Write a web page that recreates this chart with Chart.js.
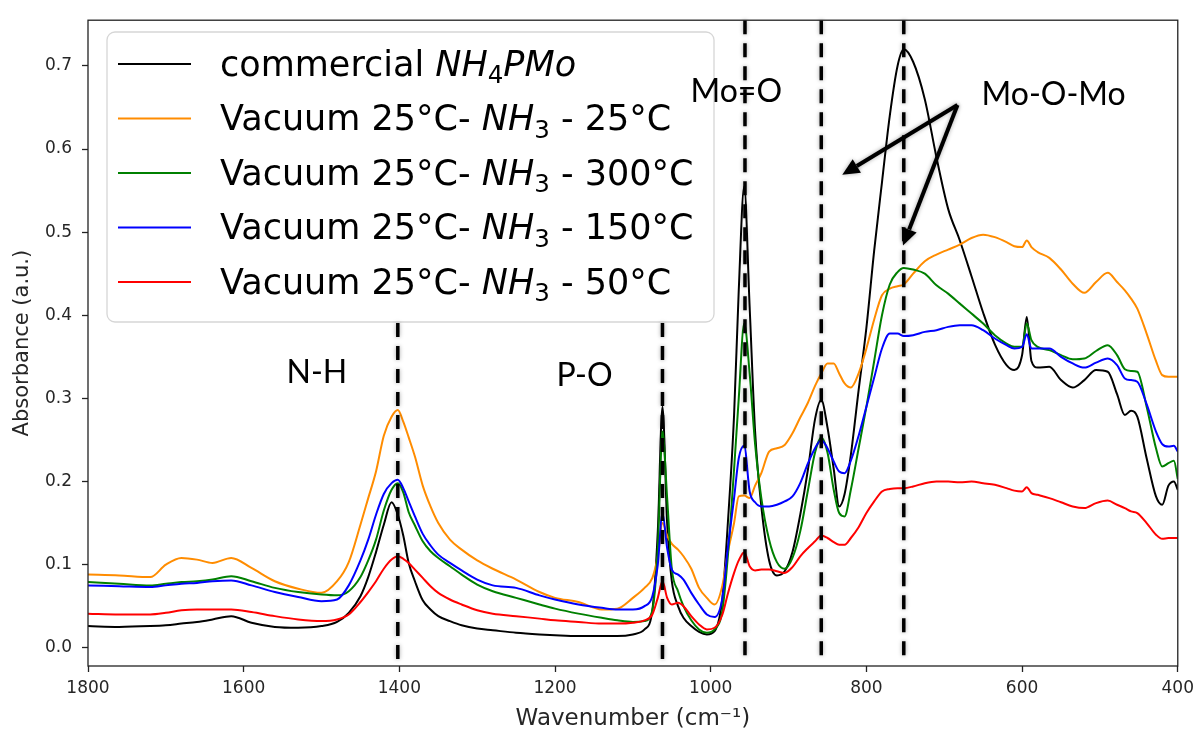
<!DOCTYPE html>
<html>
<head>
<meta charset="utf-8">
<script src="https://cdn.jsdelivr.net/npm/chart.js@4.4.1/dist/chart.umd.min.js"></script>
<style>
  html, body { margin: 0; padding: 0; background: #fff; }
  #wrap { width: 1200px; height: 734px; }
</style>
</head>
<body>
<div id="wrap"><canvas id="irChart" width="1200" height="734"></canvas></div>
<script>
// wavenumber grid (cm-1)
const wavenumbers = [1800,1760,1720,1700,1680,1660,1640,1616,1590,1560,
  1530,1500,1480,1465,1450,1440,1430,1420,1410,1402,
  1395,1388,1380,1370,1360,1350,1335,1320,1300,1280,
  1250,1220,1200,1170,1140,1120,1100,1085,1075,1068,
  1062,1056,1050,1042,1035,1025,1015,1005,995,985,
  978,970,964,957,950,943,935,925,915,905,
  895,885,875,866,858,850,842,835,828,820,
  810,800,790,780,770,760,752,740,725,710,
  695,680,665,650,635,620,610,600,594,588,
  580,565,550,535,520,505,490,478,468,460,
  452,440,428,420,412,405,400];

const commercial = [0.026,0.025,0.026,0.027,0.029,0.031,0.034,0.038,0.030,0.025,
  0.024,0.026,0.031,0.042,0.062,0.085,0.115,0.148,0.175,0.160,
  0.135,0.102,0.080,0.057,0.046,0.038,0.032,0.027,0.023,0.021,
  0.018,0.016,0.015,0.014,0.014,0.014,0.016,0.022,0.045,0.140,
  0.290,0.150,0.080,0.050,0.036,0.026,0.019,0.016,0.020,0.060,
  0.150,0.280,0.430,0.555,0.410,0.260,0.170,0.105,0.087,0.092,
  0.115,0.160,0.215,0.275,0.298,0.265,0.215,0.170,0.185,0.232,
  0.310,0.385,0.478,0.560,0.640,0.700,0.720,0.705,0.660,0.590,
  0.528,0.490,0.447,0.403,0.365,0.340,0.334,0.352,0.398,0.345,
  0.337,0.338,0.322,0.313,0.322,0.334,0.332,0.305,0.280,0.285,
  0.278,0.228,0.182,0.172,0.195,0.200,0.190];

const vac25 = [0.088,0.087,0.085,0.100,0.108,0.106,0.102,0.108,0.096,0.080,
  0.071,0.066,0.080,0.103,0.148,0.180,0.212,0.255,0.278,0.286,
  0.272,0.253,0.230,0.195,0.170,0.150,0.130,0.118,0.105,0.095,
  0.082,0.067,0.060,0.055,0.046,0.047,0.060,0.072,0.084,0.110,
  0.150,0.135,0.125,0.118,0.110,0.095,0.072,0.060,0.052,0.075,
  0.115,0.150,0.182,0.183,0.180,0.195,0.210,0.236,0.240,0.244,
  0.258,0.277,0.295,0.315,0.330,0.342,0.342,0.330,0.318,0.313,
  0.330,0.360,0.395,0.424,0.432,0.435,0.437,0.450,0.465,0.473,
  0.479,0.485,0.493,0.497,0.494,0.488,0.483,0.482,0.490,0.482,
  0.476,0.469,0.455,0.438,0.427,0.440,0.451,0.440,0.430,0.420,
  0.408,0.378,0.345,0.328,0.326,0.326,0.326];

const vac300 = [0.079,0.077,0.075,0.077,0.079,0.080,0.082,0.086,0.080,0.072,
  0.067,0.064,0.063,0.068,0.085,0.105,0.130,0.165,0.190,0.198,
  0.187,0.163,0.147,0.128,0.116,0.108,0.098,0.088,0.076,0.068,
  0.060,0.052,0.047,0.041,0.036,0.033,0.031,0.032,0.045,0.120,
  0.260,0.180,0.095,0.068,0.050,0.033,0.022,0.018,0.022,0.045,
  0.110,0.215,0.300,0.390,0.330,0.245,0.180,0.130,0.103,0.095,
  0.108,0.140,0.190,0.235,0.253,0.235,0.190,0.162,0.158,0.190,
  0.240,0.290,0.345,0.400,0.437,0.452,0.457,0.455,0.450,0.436,
  0.426,0.414,0.402,0.390,0.376,0.366,0.362,0.362,0.390,0.370,
  0.362,0.358,0.352,0.347,0.348,0.357,0.364,0.352,0.335,0.333,
  0.332,0.290,0.240,0.218,0.222,0.225,0.203];

const vac150 = [0.075,0.074,0.073,0.075,0.077,0.078,0.080,0.081,0.075,0.067,
  0.061,0.056,0.058,0.075,0.105,0.130,0.160,0.185,0.198,0.202,
  0.192,0.176,0.158,0.137,0.123,0.112,0.102,0.093,0.082,0.075,
  0.072,0.063,0.058,0.052,0.048,0.046,0.046,0.050,0.062,0.100,
  0.162,0.120,0.094,0.088,0.082,0.066,0.052,0.040,0.037,0.060,
  0.120,0.180,0.228,0.243,0.188,0.175,0.170,0.170,0.172,0.176,
  0.182,0.198,0.222,0.240,0.250,0.240,0.224,0.212,0.210,0.225,
  0.255,0.290,0.325,0.360,0.378,0.378,0.375,0.376,0.380,0.382,
  0.386,0.388,0.388,0.382,0.372,0.364,0.360,0.362,0.377,0.360,
  0.360,0.360,0.350,0.342,0.337,0.343,0.348,0.340,0.324,0.322,
  0.320,0.293,0.260,0.245,0.242,0.243,0.236];

const vac50 = [0.041,0.040,0.040,0.042,0.045,0.046,0.046,0.046,0.043,0.038,
  0.034,0.032,0.034,0.040,0.055,0.067,0.080,0.095,0.106,0.110,
  0.107,0.102,0.094,0.084,0.074,0.066,0.058,0.052,0.045,0.041,
  0.038,0.035,0.033,0.031,0.029,0.029,0.030,0.033,0.040,0.060,
  0.080,0.060,0.052,0.054,0.050,0.038,0.028,0.022,0.024,0.040,
  0.065,0.090,0.105,0.115,0.098,0.093,0.094,0.094,0.092,0.090,
  0.097,0.110,0.120,0.128,0.135,0.132,0.127,0.124,0.124,0.132,
  0.145,0.162,0.176,0.188,0.191,0.192,0.192,0.194,0.198,0.200,
  0.200,0.199,0.200,0.198,0.196,0.192,0.189,0.188,0.193,0.186,
  0.184,0.180,0.175,0.170,0.168,0.174,0.177,0.172,0.168,0.164,
  0.162,0.150,0.136,0.131,0.132,0.132,0.132];

const xTicks = [1800, 1600, 1400, 1200, 1000, 800, 600, 400];
const yTicks = [0.0, 0.1, 0.2, 0.3, 0.4, 0.5, 0.6, 0.7];

// legend labels as rich text pieces (mathtext style)
const legendLabels = [
  [{t: 'commercial '}, {t: 'NH', it: true}, {t: '4', sub: true}, {t: 'PMo', it: true}],
  [{t: 'Vacuum 25°C- '}, {t: 'NH', it: true}, {t: '3', sub: true}, {t: ' - 25°C'}],
  [{t: 'Vacuum 25°C- '}, {t: 'NH', it: true}, {t: '3', sub: true}, {t: ' - 300°C'}],
  [{t: 'Vacuum 25°C- '}, {t: 'NH', it: true}, {t: '3', sub: true}, {t: ' - 150°C'}],
  [{t: 'Vacuum 25°C- '}, {t: 'NH', it: true}, {t: '3', sub: true}, {t: ' - 50°C'}]
];
const seriesData = [commercial, vac25, vac300, vac150, vac50];
const seriesColors = ['#000000', '#ff8c00', '#008000', '#0000ff', '#ff0000'];

// band markers and annotations
const bandLines = [1402, 1062, 956, 858, 752];
const bandLabels = [
  {text: 'N-H', x: 1545, y: 0.318},
  {text: 'P-O', x: 1198, y: 0.315},
  {text: 'Mo=O', x: 1026, y: 0.657},
  {text: 'Mo-O-Mo', x: 652, y: 0.653}
];
const arrowFrom = {x: 683, y: 0.653};
const arrowTips = [{x: 831, y: 0.569}, {x: 753, y: 0.484}];

function drawRich(ctx, parts, x, y, size) {
  parts.forEach(function(p) {
    const s = p.sub ? size * 0.7 : size;
    ctx.font = (p.it ? 'italic ' : '') + s + 'px "DejaVu Sans"';
    ctx.fillText(p.t, x, y + (p.sub ? size * 0.22 : 0));
    x += ctx.measureText(p.t).width;
  });
}

function drawArrow(ctx, x1, y1, x2, y2) {
  const a = Math.atan2(y2 - y1, x2 - x1);
  const head = 17, half = 8;
  const bx = x2 - head * Math.cos(a), by = y2 - head * Math.sin(a);
  ctx.beginPath();
  ctx.moveTo(x1, y1);
  ctx.lineTo(bx, by);
  ctx.stroke();
  ctx.beginPath();
  ctx.moveTo(x2, y2);
  ctx.lineTo(bx + half * Math.sin(a), by - half * Math.cos(a));
  ctx.lineTo(bx - half * Math.sin(a), by + half * Math.cos(a));
  ctx.closePath();
  ctx.fill();
}

const legendBox = {x: 107, y: 32, w: 607, h: 290};

const decor = {
  id: 'decor',
  afterDatasetsDraw(chart) {
    const ctx = chart.ctx;
    const xs = chart.scales.x, ys = chart.scales.y;
    const area = chart.chartArea;
    const lb = legendBox;
    ctx.save();

    // legend box and entries
    ctx.beginPath();
    ctx.roundRect(lb.x, lb.y, lb.w, lb.h, 8);
    ctx.fillStyle = '#ffffff';
    ctx.fill();
    ctx.strokeStyle = '#d6d6d6';
    ctx.lineWidth = 1.3;
    ctx.stroke();
    legendLabels.forEach(function(parts, i) {
      const rowY = 64 + i * 54.5;
      ctx.strokeStyle = seriesColors[i];
      ctx.lineWidth = 2.2;
      ctx.beginPath();
      ctx.moveTo(118, rowY);
      ctx.lineTo(191, rowY);
      ctx.stroke();
      ctx.fillStyle = '#000';
      drawRich(ctx, parts, 220, rowY + 11.5, 35);
    });

    // dashed band lines (those under the legend start below it)
    ctx.shadowColor = 'rgba(0,0,0,0.35)';
    ctx.shadowBlur = 4;
    ctx.strokeStyle = '#000';
    ctx.lineWidth = 3.5;
    ctx.setLineDash([14, 9]);
    bandLines.forEach(function(w) {
      const px = xs.getPixelForValue(w);
      const top = px < lb.x + lb.w ? lb.y + lb.h + 1 : area.top;
      ctx.beginPath();
      ctx.moveTo(px, top);
      ctx.lineTo(px, area.bottom - 4);
      ctx.stroke();
    });
    ctx.setLineDash([]);

    // arrows
    ctx.lineWidth = 4;
    ctx.fillStyle = '#000';
    const ax = xs.getPixelForValue(arrowFrom.x), ay = ys.getPixelForValue(arrowFrom.y);
    arrowTips.forEach(function(t) {
      drawArrow(ctx, ax, ay, xs.getPixelForValue(t.x), ys.getPixelForValue(t.y));
    });
    ctx.shadowBlur = 0;
    ctx.shadowColor = 'transparent';

    // band labels
    ctx.font = '32px Lato';
    ctx.textBaseline = 'alphabetic';
    ctx.textAlign = 'left';
    bandLabels.forEach(function(b) {
      ctx.fillText(b.text, xs.getPixelForValue(b.x), ys.getPixelForValue(b.y));
    });

    // frame
    ctx.strokeStyle = '#222';
    ctx.lineWidth = 1.3;
    ctx.strokeRect(area.left, area.top, area.right - area.left, area.bottom - area.top);
    ctx.restore();
  }
};

// matplotlib draws the last series on top
const datasets = seriesData.map(function(vals, i) {
  return {
    data: wavenumbers.map(function(w, k) { return {x: w, y: vals[k]}; }),
    borderColor: seriesColors[i],
    borderWidth: 2,
    pointRadius: 0,
    fill: false,
    cubicInterpolationMode: 'monotone',
    order: seriesData.length - 1 - i
  };
});

new Chart(document.getElementById('irChart').getContext('2d'), {
  type: 'line',
  data: { datasets: datasets },
  plugins: [decor],
  options: {
    responsive: false,
    animation: false,
    layout: { padding: { left: 0, right: 22, top: 16, bottom: 0 } },
    plugins: { legend: { display: false }, tooltip: { enabled: false } },
    scales: {
      x: {
        type: 'linear',
        reverse: true,
        min: 400,
        max: 1800,
        afterBuildTicks: function(s) { s.ticks = xTicks.map(function(v) { return {value: v}; }); },
        afterFit: function(s) { s.height = 68; },
        border: { display: false },
        grid: { display: true, drawOnChartArea: false, drawTicks: true, tickLength: 6, color: '#222', tickWidth: 1.3 },
        ticks: {
          color: '#262626',
          font: { family: 'DejaVu Sans', size: 17 },
          padding: 6,
          maxRotation: 0,
          callback: function(v) { return String(v); }
        },
        title: {
          display: true,
          text: 'Wavenumber (cm⁻¹)',
          color: '#262626',
          font: { family: 'DejaVu Sans', size: 23 },
          padding: { top: 0, bottom: 1 }
        }
      },
      y: {
        type: 'linear',
        min: -0.022,
        max: 0.755,
        afterBuildTicks: function(s) { s.ticks = yTicks.map(function(v) { return {value: v}; }); },
        afterFit: function(s) { s.width = 88; },
        border: { display: false },
        grid: { display: true, drawOnChartArea: false, drawTicks: true, tickLength: 6, color: '#222', tickWidth: 1.3 },
        ticks: {
          color: '#262626',
          font: { family: 'DejaVu Sans', size: 17 },
          padding: 10,
          callback: function(v) { return v.toFixed(1); }
        },
        title: {
          display: true,
          text: 'Absorbance (a.u.)',
          color: '#262626',
          font: { family: 'DejaVu Sans', size: 21 },
          padding: { top: 10, bottom: 0 }
        }
      }
    }
  }
});
</script>
</body>
</html>
